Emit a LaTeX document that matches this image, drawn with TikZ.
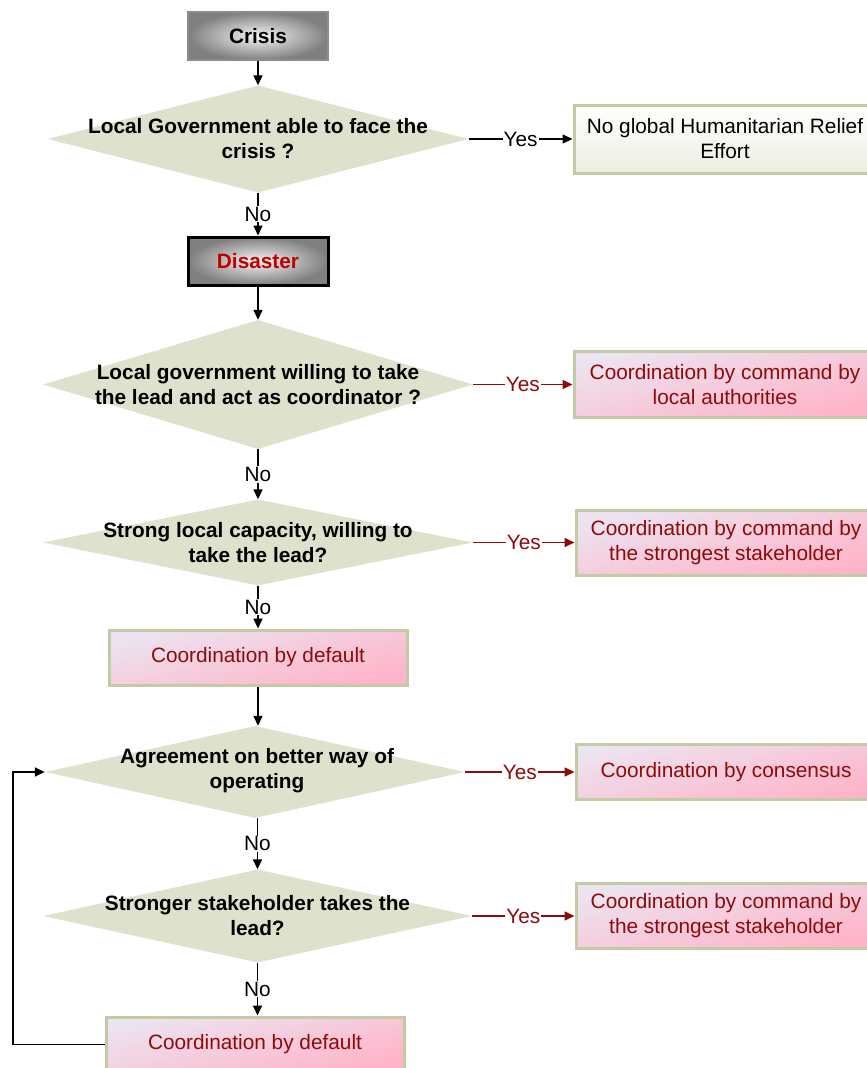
\documentclass[tikz,border=0pt]{standalone}
\usepackage{fontspec}
\setmainfont{Liberation Sans}
\usetikzlibrary{shapes.geometric,arrows.meta}
\definecolor{dfill}{HTML}{DEE2CC}
\definecolor{bord}{HTML}{C3CBA6}
\definecolor{dred}{HTML}{8E0A0A}
\definecolor{lav}{HTML}{ECE4F0}
\definecolor{pinkc}{HTML}{FFB3C8}
\definecolor{disred}{HTML}{C00000}
\definecolor{palegreen}{HTML}{ECEFE0}
\begin{document}
\begin{tikzpicture}[x=1pt,y=-1pt,
  every node/.style={font=\fontsize{20.8pt}{25pt}\selectfont},
  dia/.style={diamond, fill=dfill, inner sep=0pt},
  qtext/.style={align=center, font=\fontsize{20.8pt}{25pt}\selectfont\bfseries, text=black},
  greybox/.style={rectangle, inner sep=0pt, minimum width=140pt, minimum height=48pt,
    inner color=gray!8, outer color=gray, font=\fontsize{20.8pt}{25pt}\selectfont\bfseries},
  pinkbox/.style={rectangle, draw=bord, line width=3pt, inner sep=0pt, align=center,
    top color=lav, bottom color=pinkc, shading angle=14, text=dred},
  whitebox/.style={rectangle, draw=bord, line width=3pt, inner sep=0pt, align=center,
    top color=white, bottom color=palegreen, text=black},
  arr/.style={line width=1.6pt, -{Triangle[length=10pt,width=9pt]}},
  redarr/.style={arr, draw=dred},
  lab/.style={fill=white, inner sep=1pt},
  redlab/.style={fill=white, inner sep=1pt, text=dred}
]
\useasboundingbox (0,0) rectangle (867,1068);
\clip (0,0) rectangle (867,1068);

% top boxes
\node[greybox, draw=gray!90, line width=1.5pt] (crisis) at (258,36) {Crisis};
\node[dia, minimum width=421pt, minimum height=107pt] (d1) at (258,139) {};
\node[qtext] (d1t) at (d1) {Local Government able to face the\\crisis ?};
\node[whitebox, minimum width=302pt, minimum height=68pt] (b1) at (725,139) {No global Humanitarian Relief\\Effort};
\node[greybox, draw=black, line width=3pt, text=disred] (disaster) at (258,261) {Disaster};

\node[dia, minimum width=430pt, minimum height=129pt] (d2) at (258,384.5) {};
\node[qtext] (d2t) at (d2) {Local government willing to take\\the lead and act as coordinator ?};
\node[pinkbox, minimum width=302pt, minimum height=66pt] (b2) at (725,384.5) {Coordination by command by\\local authorities};

\node[dia, minimum width=430pt, minimum height=86pt] (d3) at (258,542.5) {};
\node[qtext] (d3t) at (d3) {Strong local capacity, willing to\\take the lead?};
\node[pinkbox, minimum width=300pt, minimum height=65pt] (b3) at (726,542.5) {Coordination by command by\\the strongest stakeholder};

\node[pinkbox, minimum width=298pt, minimum height=55pt] (def1) at (258,657.5) {Coordination by default};

\node[dia, minimum width=420pt, minimum height=92pt] (d4) at (255,772) {};
\node[qtext] (d4t) at (257,770.5) {Agreement on better way of\\operating};
\node[pinkbox, minimum width=300pt, minimum height=55pt] (b4) at (726,772) {Coordination by consensus};

\node[dia, minimum width=429pt, minimum height=93pt] (d5) at (257.5,916) {};
\node[qtext] (d5t) at (d5) {Stronger stakeholder takes the\\lead?};
\node[pinkbox, minimum width=300pt, minimum height=65pt] (b5) at (726,916) {Coordination by command by\\the strongest stakeholder};

\node[pinkbox, minimum width=298pt, minimum height=55pt] (def2) at (255,1044.5) {Coordination by default};

% connectors
\draw[arr] (crisis) -- (d1);
\draw[arr] (d1) -- node[lab] {Yes} (b1);
\draw[arr] (d1) -- node[lab] {No} (disaster);
\draw[arr] (disaster) -- (d2);
\draw[redarr] (d2) -- node[redlab] {Yes} (b2);
\draw[arr] (d2) -- node[lab] {No} (d3);
\draw[redarr] (d3) -- node[redlab] {Yes} (b3);
\draw[arr] (d3) -- node[lab] {No} (def1);
\draw[arr] (def1) -- (def1 |- d4.north);
\draw[redarr] (d4) -- node[redlab] {Yes} (b4);
\draw[arr] (d4.south -| d5.north) -- node[lab] {No} (d5.north);
\draw[redarr] (d5) -- node[redlab] {Yes} (b5);
\draw[arr] (d5.south) -- node[lab] {No} (d5.south |- def2.north);
\coordinate (lp) at (13,900);
\draw[line width=1.6pt, -{Triangle[length=10pt,width=9pt]}] (def2.west) -| (lp) |- (d4.west);
\end{tikzpicture}
\end{document}
